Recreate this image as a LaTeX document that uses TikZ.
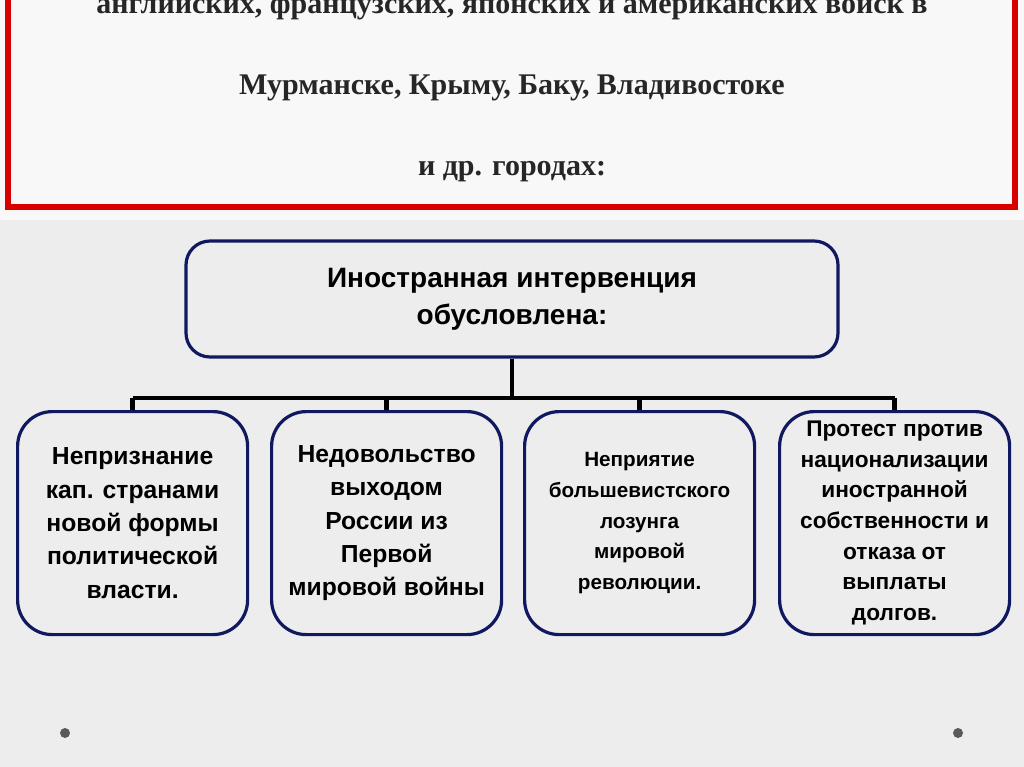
\documentclass[tikz,border=0pt]{standalone}
\usepackage{fontspec}
\setmainfont{Liberation Serif}
\newfontfamily\arialf{Liberation Sans}
\begin{document}
\begin{tikzpicture}[x=0.75pt,y=-0.75pt,
  sub/.style={draw=navy,line width=2.4pt,rounded corners=26pt,minimum width=230*0.75pt,minimum height=223*0.75pt,anchor=north west,align=center,inner sep=0pt,font=\arialf\bfseries\fontsize{18.5}{25}\selectfont,text=black},
  conn/.style={line width=3.5pt,black}]
\definecolor{navy}{HTML}{101860}
\definecolor{bg}{HTML}{EDEDED}
\useasboundingbox (0,0) rectangle (1024,767);
\fill[bg] (0,0) rectangle (1024,767);
\fill[white!60!bg] (0,0) rectangle (1024,220);
\begin{scope}
\clip (0,0) rectangle (1024,767);
\draw[red!85!black,line width=4.5pt] (8,-20) rectangle (1015,207);
\node[font=\bfseries\fontsize{22.5}{26}\selectfont,text=black!85] (t0) at (512,6) {английских, французских, японских и американских войск в};
\end{scope}
\node[font=\bfseries\fontsize{22.5}{26}\selectfont,text=black!85] (t1) at (512,88) {Мурманске, Крыму, Баку, Владивостоке};
\node[font=\bfseries\fontsize{22.5}{26}\selectfont,text=black!85] (t2) at (512,172) {и др. городах:};
\node[draw=navy,line width=2.4pt,rounded corners=18pt,minimum width=652*0.75pt,minimum height=116*0.75pt,align=center,font=\arialf\bfseries\fontsize{21}{28}\selectfont] (m) at (512,299) {Иностранная интервенция\\обусловлена:};
\node[sub] (b1) at (16,410) {Непризнание\\кап. странами\\новой формы\\политической\\власти.};
\node[sub] (b2) at (270,410) {Недовольство\\выходом\\России из\\Первой\\мировой войны};
\node[sub,font=\arialf\bfseries\fontsize{15.5}{23}\selectfont] (b3) at (523,410) {Неприятие\\большевистского\\лозунга\\мировой\\революции.};
\node[sub,font=\arialf\bfseries\fontsize{17}{23}\selectfont] (b4) at (778,410) {Протест против\\национализации\\иностранной\\собственности и\\отказа от\\выплаты\\долгов.};
\coordinate (h) at (512,398);
\draw[conn] (m.south) -- (h);
\draw[conn] (b1.north |- h) -- (b4.north |- h);
\foreach \b in {b1,b2,b3,b4} \draw[conn] (\b.north |- h) -- (\b.north);
\fill[gray!70!black] (65,733) circle (5);
\fill[gray!70!black] (958,733) circle (5);
\end{tikzpicture}
\end{document}
